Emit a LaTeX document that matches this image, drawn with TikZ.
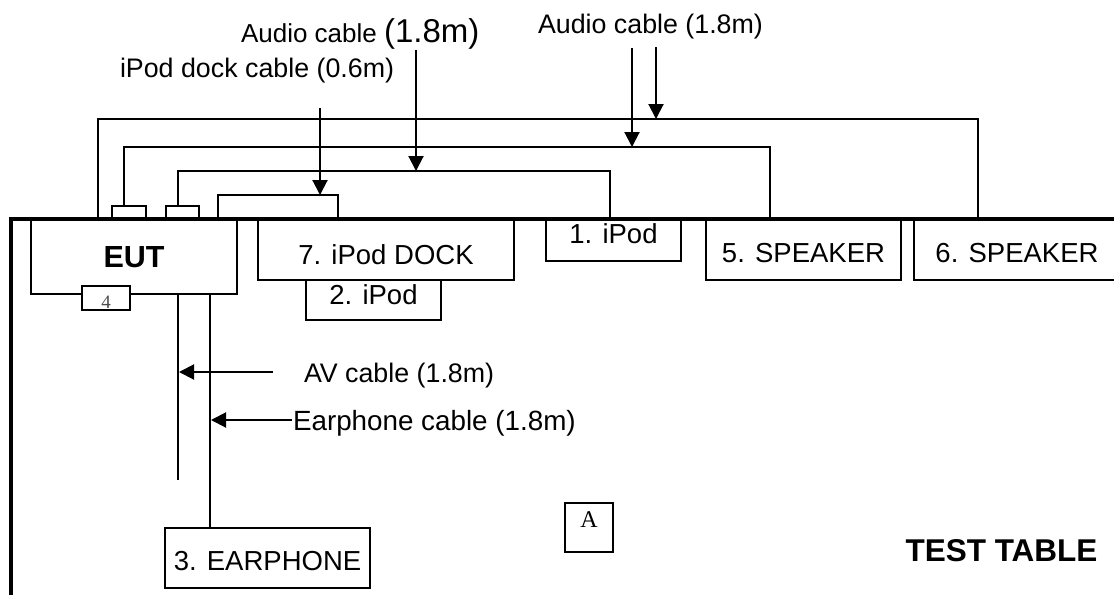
\documentclass[tikz,border=0pt]{standalone}
\usepackage{fontspec}
\setmainfont{Liberation Sans}
\newfontfamily\tnrfont{Liberation Serif}
\usetikzlibrary{arrows.meta,calc}

\newcommand{\txtsz}{\fontsize{27.5}{33}\selectfont}
\newcommand{\tagsz}{\fontsize{26.8}{32}\selectfont}

\begin{document}
\begin{tikzpicture}[x=1pt, y=-1pt, line width=2pt,
  box/.style={draw, fill=white, inner sep=0pt, outer sep=0pt, anchor=north west,
    font=\txtsz, text height=19.7pt, text depth=0pt},
  plug/.style={draw, fill=white, inner sep=0pt, outer sep=0pt, anchor=north west},
  cable/.style={line width=2pt},
  ptr/.style={line width=2pt, -{Triangle[length=15pt,width=15pt]}},
  tag/.style={inner sep=0pt, font=\tagsz, anchor=base west}]
  \useasboundingbox (0,0) rectangle (1114,595);
  % Geraete am Tischrand (y nach unten, 1pt = 1px)
  \node[box, minimum width=206pt, minimum height=75pt,
    font=\fontsize{30.5}{36}\selectfont\bfseries, text height=21.8pt] (eut) at (31,219) {EUT};
  \node[box, minimum width=48pt, minimum height=24pt, text=black!70,
    font=\tnrfont\fontsize{19}{22}\selectfont, text height=21.8pt] (p4) at (82,286) {4};
  \node[plug, minimum width=34pt, minimum height=13pt] (pa) at (112,206) {};
  \node[plug, minimum width=33pt, minimum height=13pt] (pb) at (166,206) {};
  \node[box, minimum width=135pt, minimum height=40pt, text depth=10pt] (ipodB) at (306,280) {2. iPod};
  \node[box, minimum width=256pt, minimum height=61pt, text height=30.7pt] (dock) at (258,219) {7. iPod DOCK};
  \node[box, minimum width=135pt, minimum height=42pt, text depth=12pt] (ipodA) at (546,219) {1. iPod};
  \node[box, minimum width=195pt, minimum height=61pt, text height=26.7pt] (spk5) at (706,219) {5. SPEAKER};
  \node[box, minimum width=206pt, minimum height=61pt, text height=26.7pt] (spk6) at (914,219) {6. SPEAKER};
  \node[box, minimum width=205pt, minimum height=60pt, text height=25.7pt] (earph) at (165,528) {3. EARPHONE};
  \node[box, minimum width=48pt, minimum height=49pt, font=\tnrfont\fontsize{24}{28}\selectfont,
    text height=15.9pt, text depth=15pt] (boxA) at (565,503) {A};
  \node[inner sep=0pt, font=\fontsize{31.5}{38}\selectfont\bfseries] (tt) at (1001.5,551) {TEST TABLE};

  % Tischkante
  \draw[line width=4pt] (11,595) -- (11,218.5) -- (1120,218.5);

  % Kabel oben
  \draw[cable] ([xshift=67pt]eut.north west) |- ([xshift=64pt,yshift=100pt]spk6.north west)
    -- ([xshift=64pt]spk6.north west);
  \draw[cable] ([xshift=12pt]pa.north west) |- ([xshift=64pt,yshift=72pt]spk5.north west)
    -- ([xshift=64pt]spk5.north west);
  \draw[cable] ([xshift=12pt]pb.north west) |- ([xshift=64pt,yshift=48pt]ipodA.north west)
    -- ([xshift=64pt]ipodA.north west);
  \draw[cable] ([xshift=-19pt]eut.north east) |- ([xshift=80pt,yshift=24pt]dock.north west)
    -- ([xshift=80pt]dock.north west);

  % Kabel unten
  \coordinate (avend) at (178,480);
  \draw[cable] ([xshift=147pt]eut.south west) -- (avend);
  \draw[cable] ([xshift=179pt]eut.south west) -- ([xshift=45pt]earph.north west);

  % Pfeile
  \coordinate (t1) at (320,108); \coordinate (h1) at (320,195);
  \coordinate (t2) at (416,50);  \coordinate (h2) at (416,171);
  \coordinate (t3) at (632,48);  \coordinate (h3) at (632,147);
  \coordinate (t4) at (656,47);  \coordinate (h4) at (656,119);
  \coordinate (t5) at (273,372); \coordinate (h5) at (179,372);
  \coordinate (t6) at (292,420); \coordinate (h6) at (211,420);
  \foreach \i in {1,...,6}
    \draw[ptr] (t\i) -- (h\i);

  % Beschriftungen
  \node[tag] (l1) at (119,77) {iPod dock cable (0.6m)};
  \node[tag, font=\fontsize{26}{31}\selectfont] (l2) at (240,42) {Audio cable {\fontsize{33}{40}\selectfont(1.8m)}};
  \node[tag] (l3) at (537,33) {Audio cable (1.8m)};
  \node[tag] (l4) at (303,382) {AV cable (1.8m)};
  \node[tag, font=\fontsize{27.8}{33}\selectfont] (l5) at (292,430) {Earphone cable (1.8m)};
\end{tikzpicture}
\end{document}
